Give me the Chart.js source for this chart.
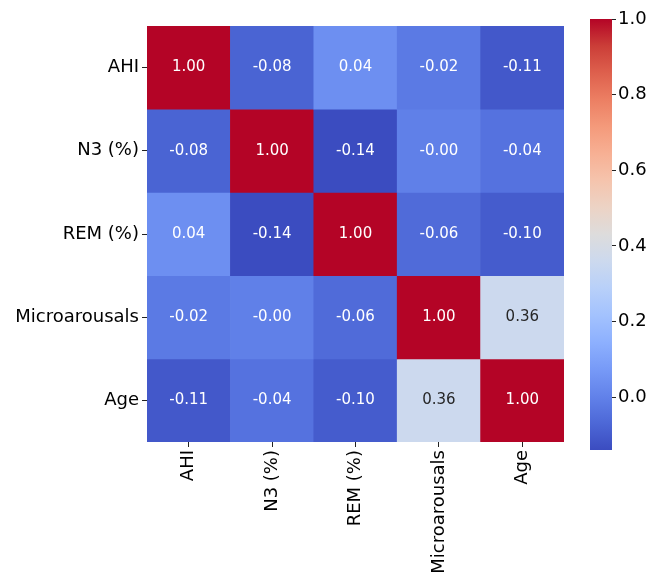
<!DOCTYPE html>
<html>
<head>
<meta charset="utf-8">
<script src="https://cdn.jsdelivr.net/npm/chart.js@4.4.1/dist/chart.umd.min.js"></script>
<style>
  html, body { margin: 0; padding: 0; background: #fff; }
  #wrap { position: relative; width: 649px; height: 575px; overflow: hidden; }
  #wrap canvas { position: absolute; left: 0; top: 0; }
</style>
</head>
<body>
<div id="wrap">
  <canvas id="heat" width="649" height="575"></canvas>
  <canvas id="cbar" width="649" height="575"></canvas>
</div>
<script>
// Variables of the correlation matrix (rows top to bottom, columns left to right)
const variables = ['AHI', 'N3 (%)', 'REM (%)', 'Microarousals', 'Age'];

// Pearson correlations, one row per variable
const rowAHI   = [1.00, -0.08, 0.04, -0.02, -0.11];
const rowN3    = [-0.08, 1.00, -0.14, -0.004, -0.04];
const rowREM   = [0.04, -0.14, 1.00, -0.06, -0.10];
const rowMicro = [-0.02, -0.004, -0.06, 1.00, 0.36];
const rowAge   = [-0.11, -0.04, -0.10, 0.36, 1.00];
const matrix = [rowAHI, rowN3, rowREM, rowMicro, rowAge];

// Colour scale limits and colour-bar ticks
const vmin = -0.14;
const vmax = 1.0;
const colorbarTicks = [0.0, 0.2, 0.4, 0.6, 0.8, 1.0];

// coolwarm colormap anchors (position, r, g, b)
const coolwarm = [
  [0.0, 59, 76, 192], [0.0625, 77, 104, 215], [0.125, 98, 130, 234],
  [0.1875, 119, 154, 247], [0.25, 141, 176, 254], [0.3125, 163, 194, 254],
  [0.375, 184, 208, 249], [0.4375, 204, 217, 238], [0.5, 221, 220, 220],
  [0.5625, 236, 211, 197], [0.625, 245, 196, 173], [0.6875, 247, 176, 148],
  [0.75, 244, 154, 123], [0.8125, 236, 127, 99], [0.875, 222, 96, 77],
  [0.9375, 203, 62, 56], [1.0, 180, 4, 38]
];

function cmapRGB(t) {
  t = Math.max(0, Math.min(1, t));
  for (let k = 1; k < coolwarm.length; k++) {
    const a = coolwarm[k - 1], b = coolwarm[k];
    if (t <= b[0]) {
      const f = (t - a[0]) / (b[0] - a[0]);
      return [0, 1, 2].map(c => Math.round(a[c + 1] + f * (b[c + 1] - a[c + 1])));
    }
  }
  const last = coolwarm[coolwarm.length - 1];
  return [last[1], last[2], last[3]];
}
const norm = v => (v - vmin) / (vmax - vmin);
const rgbStr = c => `rgb(${c[0]},${c[1]},${c[2]})`;

function luminance(c) {
  const lin = c.map(x => { x /= 255; return x <= 0.03928 ? x / 12.92 : Math.pow((x + 0.055) / 1.055, 2.4); });
  return 0.2126 * lin[0] + 0.7152 * lin[1] + 0.0722 * lin[2];
}

const FONT = "'DejaVu Sans', sans-serif";

// One floating-bar dataset per row: each cell spans [row, row + 1] on the y scale
const datasets = matrix.map((row, i) => ({
  label: variables[i],
  data: row.map(() => [i, i + 1]),
  values: row,
  backgroundColor: row.map(v => rgbStr(cmapRGB(norm(v)))),
  borderWidth: 0,
  barPercentage: 1,
  categoryPercentage: 1,
  grouped: false
}));

// Writes each correlation at the centre of its cell
const cellLabels = {
  id: 'cellLabels',
  afterDatasetsDraw(chart) {
    const { ctx } = chart;
    const xs = chart.scales.x, ys = chart.scales.y;
    ctx.save();
    ctx.font = `15px ${FONT}`;
    ctx.textAlign = 'center';
    ctx.textBaseline = 'middle';
    chart.data.datasets.forEach((ds, i) => {
      ds.values.forEach((v, j) => {
        const c = cmapRGB(norm(v));
        ctx.fillStyle = luminance(c) > 0.408 ? '#262626' : '#ffffff';
        const x = xs.getPixelForValue(j);
        const y = ys.getPixelForValue(i + 0.5);
        ctx.fillText(v.toFixed(2), x, y);
      });
    });
    ctx.restore();
  }
};

new Chart(document.getElementById('heat'), {
  type: 'bar',
  data: { labels: variables, datasets },
  options: {
    responsive: false,
    animation: false,
    layout: { padding: { top: 26, right: 85, bottom: 0, left: 0 } },
    plugins: { legend: { display: false }, tooltip: { enabled: false } },
    scales: {
      x: {
        grid: { offset: false, drawOnChartArea: false, tickLength: 5, color: '#222', tickWidth: 1 },
        border: { display: false },
        ticks: { color: '#000', font: { family: FONT, size: 18 }, minRotation: 90, maxRotation: 90, padding: 3, autoSkip: false },
        afterFit(scale) { scale.height = 133; }
      },
      y: {
        type: 'linear',
        min: 0, max: 5, reverse: true,
        grid: { drawOnChartArea: false, tickLength: 5, color: '#222' },
        border: { display: false },
        afterBuildTicks(scale) { scale.ticks = variables.map((_, i) => ({ value: i + 0.5 })); },
        ticks: {
          color: '#000', font: { family: FONT, size: 18 }, padding: 3,
          callback: v => variables[Math.round(v - 0.5)]
        },
        afterFit(scale) { scale.width = 147; }
      }
    }
  },
  plugins: [cellLabels]
});

// Colour bar: a single floating bar from vmin to vmax filled with the colormap
new Chart(document.getElementById('cbar'), {
  type: 'bar',
  data: {
    labels: ['r'],
    datasets: [{
      data: [[vmin, vmax]],
      borderWidth: 0,
      barPercentage: 1,
      categoryPercentage: 1,
      backgroundColor(ctx) {
        const chart = ctx.chart;
        if (!chart.chartArea) return 'rgba(0,0,0,0)';
        const ys = chart.scales.y;
        const g = chart.ctx.createLinearGradient(0, ys.getPixelForValue(vmin), 0, ys.getPixelForValue(vmax));
        coolwarm.forEach(s => g.addColorStop(s[0], `rgb(${s[1]},${s[2]},${s[3]})`));
        return g;
      }
    }]
  },
  options: {
    responsive: false,
    animation: false,
    layout: { padding: { top: 19, right: 0, bottom: 125, left: 590 } },
    plugins: { legend: { display: false }, tooltip: { enabled: false } },
    scales: {
      x: { display: false },
      y: {
        position: 'right',
        min: vmin, max: vmax,
        grid: { drawOnChartArea: false, tickLength: 4, color: '#222' },
        border: { display: false },
        afterBuildTicks(scale) { scale.ticks = colorbarTicks.map(v => ({ value: v })); },
        ticks: { color: '#000', font: { family: FONT, size: 18 }, padding: 2, callback: v => v.toFixed(1) },
        afterFit(scale) { scale.width = 37; }
      }
    }
  }
});
</script>
</body>
</html>
